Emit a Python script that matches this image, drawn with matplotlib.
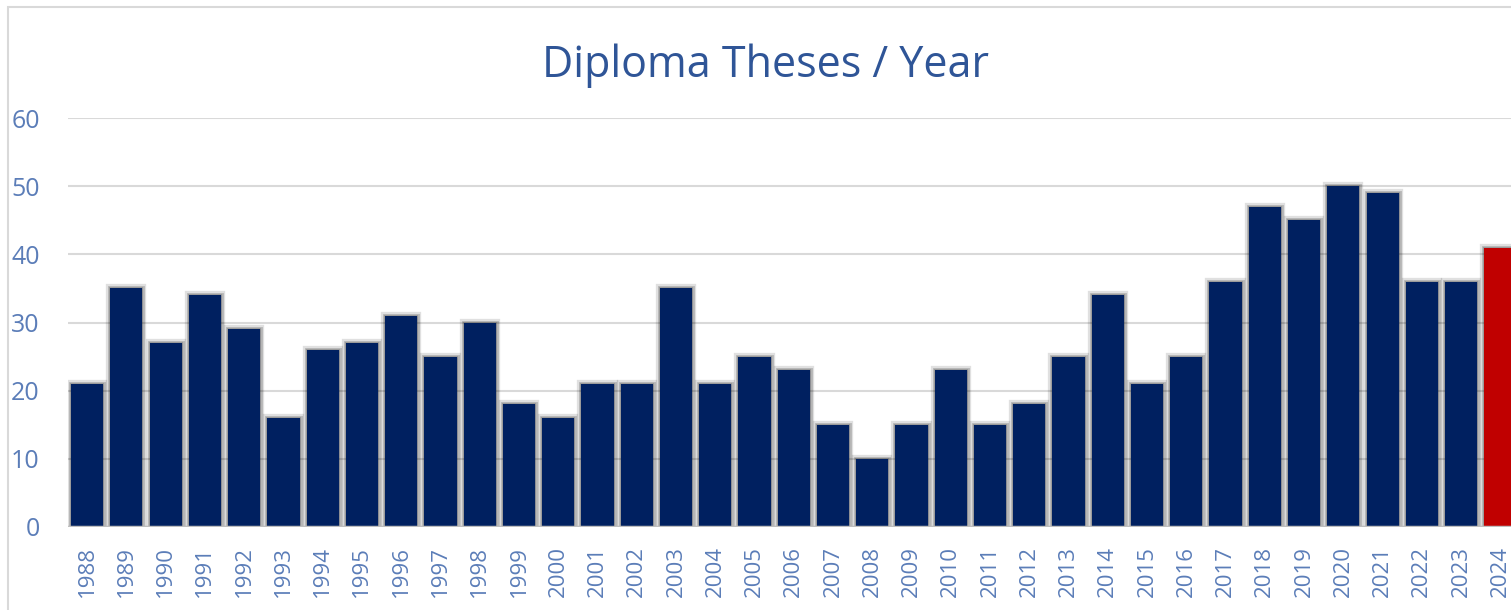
import matplotlib.pyplot as plt
import matplotlib.patheffects as pe
from matplotlib.patches import Rectangle

years = [str(y) for y in range(1988, 2025)]
theses = [21, 35, 27, 34, 29, 16, 26, 27, 31, 25, 30, 18, 16, 21, 21, 35, 21, 25, 23, 15,
          10, 15, 23, 15, 18, 25, 34, 21, 25, 36, 47, 45, 50, 49, 36, 36, 41]
highlight = '2024'
y_ticks = [0, 10, 20, 30, 40, 50, 60]

navy = '#002060'
red = '#C00000'
label_col = '#5B7DB8'
title_col = '#2F5597'

plt.rcParams['font.family'] = ['Open Sans', 'DejaVu Sans']

W, H = 1511, 610
fig = plt.figure(figsize=(W / 100, H / 100), dpi=100)

# outer chart frame (right/bottom edges fall outside the crop)
fig.patches.append(Rectangle((8 / W, -0.1), 1.2, 1 - 7 / H + 0.1, transform=fig.transFigure,
                             fill=False, edgecolor='#D9D9D9', linewidth=1.5))

left, right, bottom_px, top_px = 67.5, 1520, 527, 118
ax = fig.add_axes([left / W, (H - bottom_px) / H, (right - left) / W, (bottom_px - top_px) / H])
ax.set_facecolor('none')

colors = [red if y == highlight else navy for y in years]
x = range(len(years))
# soft grey halo like the office shadow
shadow = [pe.Stroke(linewidth=6, foreground='#000000', alpha=0.12),
          pe.Stroke(linewidth=3.5, foreground='#000000', alpha=0.18),
          pe.Stroke(linewidth=1.5, foreground='#000000', alpha=0.15),
          pe.Normal()]
ax.bar(x, theses, width=0.82, color=colors, zorder=3, path_effects=shadow)

ax.set_xlim(-0.5, len(years) - 0.5)
ax.set_ylim(0, 60)
ax.set_yticks(y_ticks)
ax.set_xticks(list(x))
ax.set_xticklabels(years, rotation=90)
ax.grid(axis='y', color='#D9D9D9', linewidth=1.5, zorder=0)
ax.axhline(0, color='#BFBFBF', linewidth=2.5, zorder=4)
for s in ax.spines.values():
    s.set_visible(False)
ax.tick_params(axis='y', length=0, pad=20, labelsize=18, labelcolor=label_col)
ax.tick_params(axis='x', length=0, pad=14, labelsize=16, labelcolor=label_col)

fig.text(765 / W, 1 - 66 / H, 'Diploma Theses / Year', ha='center', va='center',
         fontsize=31, color=title_col)

fig.savefig('out.png', dpi=100)
